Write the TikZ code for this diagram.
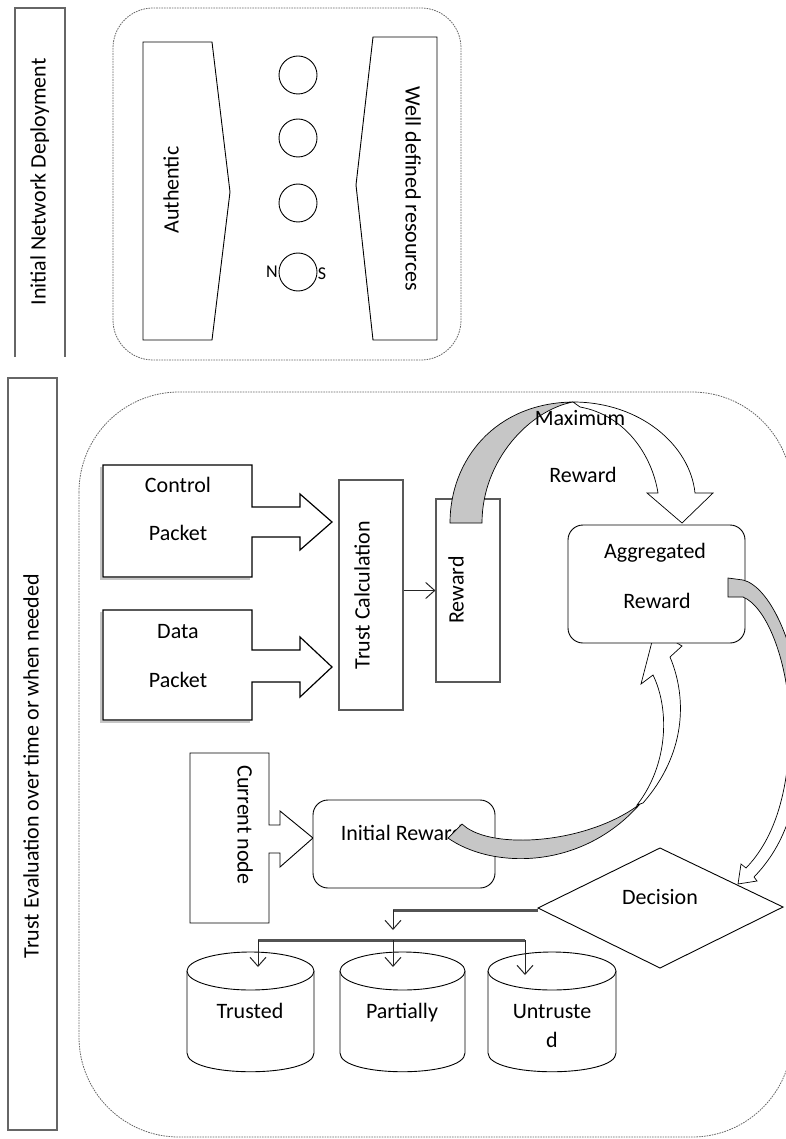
\documentclass[tikz,border=0pt]{standalone}
\usepackage{fontspec}
\setmainfont{Carlito}
\usetikzlibrary{arrows.meta}
\begin{document}
\begin{tikzpicture}[x=1pt,y=-1pt,
  txt/.style={font=\fontsize{22}{26}\selectfont, inner sep=0pt, text height=15pt, text depth=4pt},
  small/.style={font=\fontsize{18}{22}\selectfont, inner sep=0pt},
  lbl/.style={draw=gray!80!black, line width=1.2pt},
  dashbox/.style={draw=gray!80!black, line width=0.8pt, dash pattern=on 1.6pt off 1pt},
  shp/.style={draw=black, line width=0.9pt, fill=white},
  gshp/.style={draw=gray!70!black, line width=1.1pt, fill=white},
  band/.style={draw=black, line width=0.7pt, fill=gray!45},
  bandw/.style={draw=black, line width=0.7pt, fill=white},
  bus/.style={draw=gray!65!black, line width=3pt},
  arr/.style={draw=black!85, line width=1pt, -{Straight Barb[length=9pt,width=16pt]}},
]
\useasboundingbox (0,0) rectangle (785,1139);

% ---------- label boxes ----------
\draw[lbl] (15,357) -- (15,8) -- (65,8) -- (65,357);
\node[txt, rotate=90] (lab1) at (40,182) {Initial Network Deployment};
\draw[lbl] (8,378) rectangle (57,1130);
\node[txt, rotate=90] (lab2) at (33,766) {Trust Evaluation over time or when needed};

% ---------- dashed containers ----------
\draw[dashbox, rounded corners=40pt] (113,8) rectangle (461,360);
\draw[dashbox, rounded corners=100pt] (79,392) rectangle (792,1137);

% ---------- initial deployment ----------
\draw[shp] (143,42) -- (212,42) -- (230,192) -- (212,340) -- (143,340) -- cycle;
\node[txt, rotate=90] (auth) at (173,190) {Authentic};
\draw[shp] (373,37) -- (437,37) -- (437,340) -- (373,340) -- (356,185) -- cycle;
\node[txt, rotate=-90] (wdr) at (411,189) {Well defined resources};
\node[draw=black, line width=0.9pt, circle, minimum size=38pt, inner sep=0pt] (c1) at (298,75) {};
\node[draw=black, line width=0.9pt, circle, minimum size=38pt, inner sep=0pt] (c2) at (298,138) {};
\node[draw=black, line width=0.9pt, circle, minimum size=38pt, inner sep=0pt] (c3) at (298,203) {};
\node[draw=black, line width=0.9pt, circle, minimum size=38pt, inner sep=0pt] (c4) at (298,272) {};
\node[small] (nN) at (272,272) {N};
\node[small] (nS) at (322,274) {S};

% ---------- packets ----------
\draw[gray!45, line width=2pt] (101,467) -- (101,579) -- (250,579);
\draw[shp, line width=1.2pt] (103,465) -- (252,465) -- (252,507) -- (300,507) -- (300,494) -- (332,522) -- (300,550) -- (300,537) -- (252,537) -- (252,577) -- (103,577) -- cycle;
\node[txt] (ctl1) at (178,487) {Control};
\node[txt] (ctl2) at (178,535) {Packet};
\draw[gray!45, line width=2pt] (101,612) -- (101,722) -- (250,722);
\draw[shp, line width=1.2pt] (103,610) -- (252,610) -- (252,650) -- (300,650) -- (300,637) -- (332,667) -- (300,697) -- (300,682) -- (252,682) -- (252,720) -- (103,720) -- cycle;
\node[txt] (dat1) at (178,633) {Data};
\node[txt] (dat2) at (178,682) {Packet};

% ---------- trust calculation / reward ----------
\node[gshp, minimum width=64pt, minimum height=230pt, inner sep=0pt] (tc) at (371,595) {};
\node[txt, rotate=90] (tct) at (364,595) {Trust Calculation};
\node[gshp, minimum width=64pt, minimum height=183pt, inner sep=0pt] (rw) at (468,590.5) {};
\node[txt, rotate=90] (rwt) at (458,590) {Reward};
\draw[arr] (tc.east |- rw.west) -- (rw.west);

% ---------- current node / initial reward ----------
\draw[shp] (190,753) -- (269,753) -- (269,825) -- (280,825) -- (280,811) -- (313,838) -- (280,867) -- (280,853) -- (269,853) -- (269,923) -- (190,923) -- cycle;
\node[txt, rotate=-90] (cur) at (243,825) {Current node};
\node[shp, rounded corners=15pt, minimum width=182pt, minimum height=88pt, inner sep=0pt] (ir) at (404,844) {};
\node[txt] (irt) at (402,835) {Initial Reward};

% ---------- arrow initial reward -> aggregated ----------
\draw[band] (448,838) .. controls (490,868) and (580,872) .. (640,804)
  .. controls (590,842) and (500,850) .. (467,828) -- (462,824) -- cycle;
\draw[bandw] (637,805) .. controls (668,765) and (670,710) .. (653,675)
  -- (641,684) -- (655,630) -- (682,646) -- (670,657)
  .. controls (688,700) and (685,755) .. (643,803) -- cycle;

% ---------- aggregated reward ----------
\node[shp, rounded corners=15pt, minimum width=177pt, minimum height=118pt, inner sep=0pt] (agg) at (656.5,584) {};
\node[txt] (agg1) at (655,553) {Aggregated};
\node[txt] (agg2) at (657,603) {Reward};

% ---------- maximum reward arrow ----------
\draw[band] (450,523) .. controls (450,460) and (495,403) .. (573,402)
  .. controls (530,410) and (482,460) .. (482,523) -- cycle;
\draw[bandw] (573,402) .. controls (640,402) and (690,445) .. (695,493)
  -- (713,493) -- (682,523) -- (647,493) -- (658,493)
  .. controls (652,455) and (625,415) .. (580,407) -- cycle;
\node[txt] (mx1) at (580,420) {Maximum};
\node[txt] (mx2) at (583,477) {Reward};

% ---------- decision ----------
\coordinate (decL) at (538,908);
\coordinate (decT) at (660,848);
\coordinate (decR) at (783,907);
\coordinate (decB) at (660,968);
\draw[shp] (decL) -- (decT) -- (decR) -- (decB) -- cycle;
\node[txt] (dec) at (660,899) {Decision};

% ---------- arrow aggregated -> decision ----------
\draw[band] (728,578) -- (743,580) .. controls (768,586) and (797,640) .. (802,720)
  -- (790,720) .. controls (787,655) and (765,606) .. (743,597) -- (728,597) -- cycle;
\draw[bandw] (802,720) .. controls (802,800) and (785,845) .. (754,877)
  -- (757,881) -- (738,884) -- (741,864) -- (746,868)
  .. controls (775,838) and (790,790) .. (790,720) -- cycle;

% ---------- outcome bus ----------
\coordinate (j1) at (393,910);
\coordinate (j2) at (393,930);
\draw[bus] (decL |- j1) -- (j1);
\draw[arr] (j1) -- (j2);
\coordinate (bl) at (258,940);
\coordinate (bm) at (393,940);
\coordinate (br) at (525,940);
\draw[bus] (bl) -- (br);

% ---------- cylinders ----------
\draw[shp] (187,971) -- (187,1053) .. controls (187,1078) and (314,1078) .. (314,1053) -- (314,971);
\draw[shp] (250.5,971) ellipse [x radius=63.5, y radius=19];
\draw[shp] (340,971) -- (340,1053) .. controls (340,1078) and (465,1078) .. (465,1053) -- (465,971);
\draw[shp] (402.5,971) ellipse [x radius=62.5, y radius=19];
\draw[shp] (488,971) -- (488,1053) .. controls (488,1078) and (616,1078) .. (616,1053) -- (616,971);
\draw[shp] (552,971) ellipse [x radius=64, y radius=19];
\coordinate (t1) at (258,967);
\coordinate (t2) at (393,967);
\coordinate (t3) at (525,975);
\draw[arr] (bl) -- (t1);
\draw[arr] (bm) -- (t2);
\draw[arr] (br) -- (t3);
\node[txt] (tr) at (250,1013) {Trusted};
\node[txt] (pa) at (402,1013) {Partially};
\node[txt] (un1) at (552,1013) {Untruste};
\node[txt] (un2) at (552,1042) {d};

\end{tikzpicture}
\end{document}
